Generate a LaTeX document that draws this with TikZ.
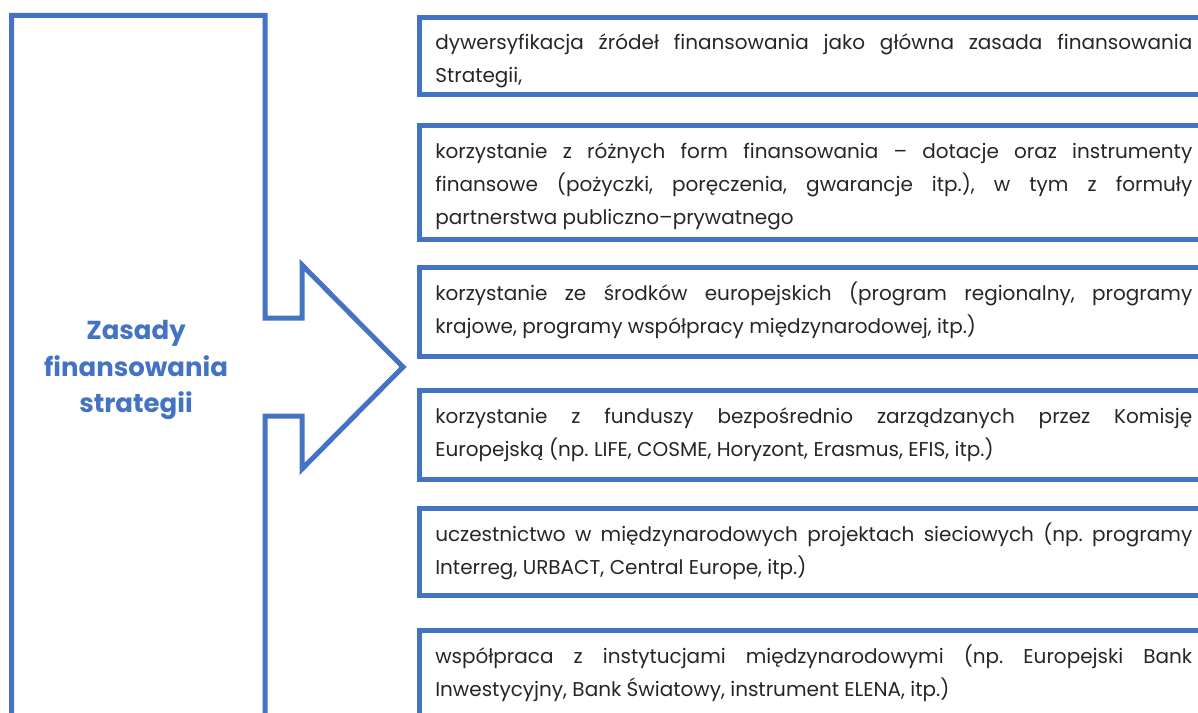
\documentclass[tikz,border=0pt]{standalone}
\usepackage{fontspec}
\setmainfont{Poppins}
\frenchspacing
\definecolor{obl}{HTML}{4472C4}
\definecolor{txt}{HTML}{262626}
\begin{document}
\begin{tikzpicture}[x=0.75pt,y=-0.75pt,
  frame/.style={draw=obl,line width=3.75pt,line join=miter},
  itemtext/.style={anchor=base west,inner sep=0pt,text width=567.75pt,align=justify,
     font=\fontsize{15}{24.75}\selectfont\frenchspacing,text=txt},
  titletext/.style={align=center,inner sep=0pt,text=obl,
     font=\fontsize{19.5}{27.5}\selectfont\bfseries}]
\useasboundingbox (0,0) rectangle (1198,713);
\clip (0,0) rectangle (1198,713);
% arrow outline
\draw[frame] (11.5,730) -- (11.5,15.5) -- (265,15.5) -- (265,318) -- (302,318) -- (302,265)
  -- (403,367) -- (302,469) -- (302,416) -- (265,416) -- (265,730);
\node[titletext] (title) at (136,370) {Zasady\\finansowania\\strategii};
% boxes
\foreach \t/\b in {17.5/94.5,125.5/239.5,267.5/356.5,390.5/479,508.5/595.5,630.5/740}
  \draw[frame] (1215,\t) -- (419.5,\t) -- (419.5,\b) -- (1215,\b);
\node[itemtext] (p1) at (435,50) {dywersyfikacja źródeł finansowania jako główna zasada finansowania\linebreak Strategii,};
\node[itemtext] (p2) at (435,158) {korzystanie z różnych form finansowania – dotacje oraz instrumenty\linebreak finansowe (pożyczki, poręczenia, gwarancje itp.), w tym z formuły\linebreak partnerstwa publiczno–prywatnego};
\node[itemtext] (p3) at (435,300) {korzystanie ze środków europejskich (program regionalny, programy\linebreak krajowe, programy współpracy międzynarodowej, itp.)};
\node[itemtext] (p4) at (435,423) {korzystanie z funduszy bezpośrednio zarządzanych przez Komisję\linebreak Europejską (np. LIFE, COSME, Horyzont, Erasmus, EFIS, itp.)};
\node[itemtext] (p5) at (435,541) {uczestnictwo w międzynarodowych projektach sieciowych (np. programy\linebreak Interreg, URBACT, Central Europe, itp.)};
\node[itemtext] (p6) at (435,663) {współpraca z instytucjami międzynarodowymi (np. Europejski Bank\linebreak Inwestycyjny, Bank Światowy, instrument ELENA, itp.)};
\end{tikzpicture}
\end{document}
